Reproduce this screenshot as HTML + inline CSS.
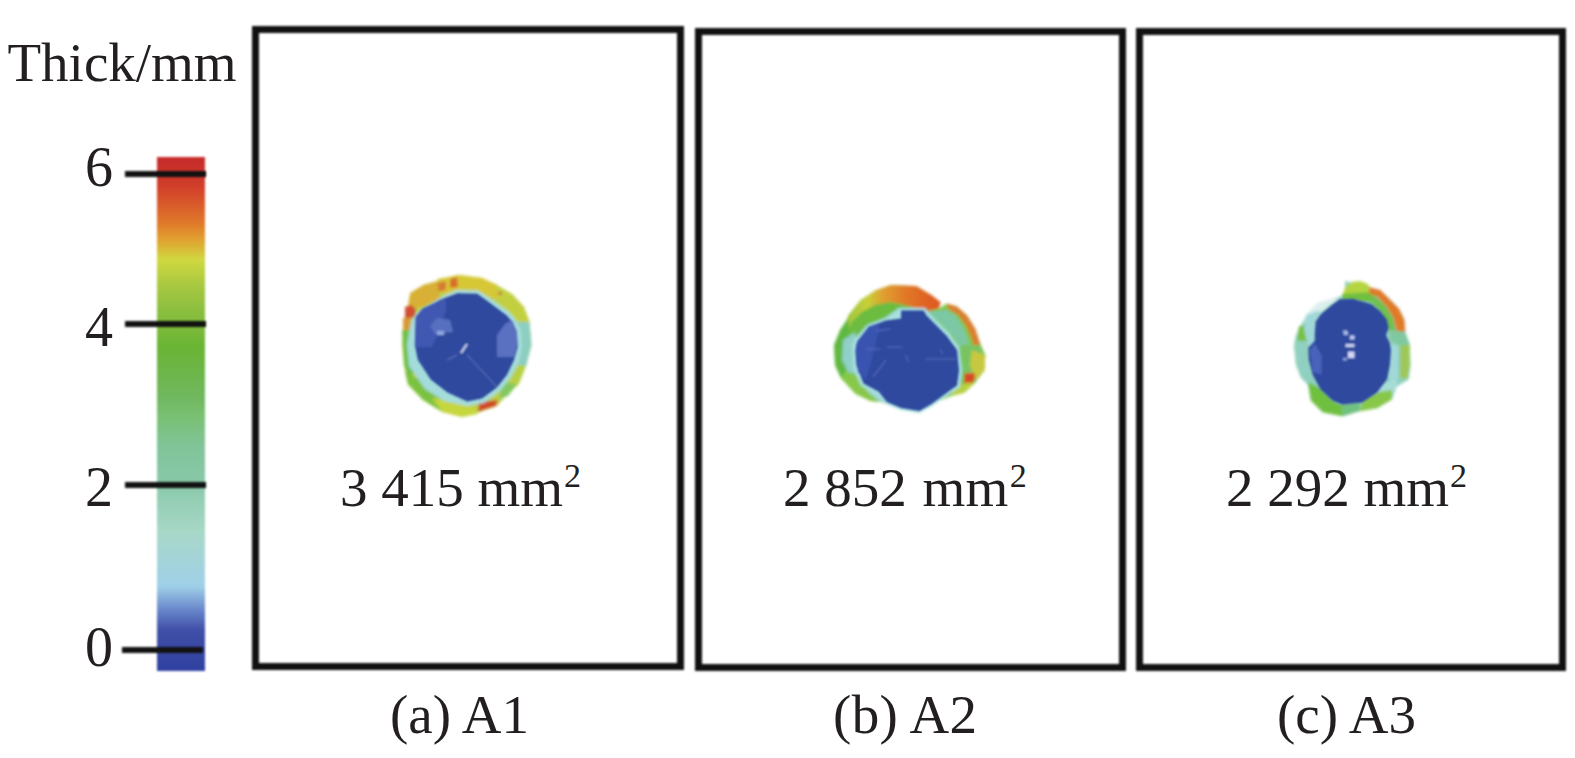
<!DOCTYPE html>
<html><head><meta charset="utf-8">
<style>
html,body{margin:0;padding:0;background:#fff;}
body{width:1575px;height:758px;position:relative;overflow:hidden;font-family:"Liberation Serif",serif;color:#231f20;}
.t{position:absolute;white-space:nowrap;line-height:1;font-size:55px;}
.frame{position:absolute;border:7px solid #111;box-sizing:border-box;filter:blur(1px);}
.blobs{position:absolute;left:0;top:0;}
.ly{position:absolute;left:0;top:0;width:100%;height:100%;}
.tick{position:absolute;height:6px;background:#111;filter:blur(1px);}
.cbar{position:absolute;filter:blur(1px);left:157px;top:157px;width:48px;height:514px;
background:linear-gradient(to bottom,#c62a2a 0%,#d2402a 6%,#e07a2a 13%,#e0a030 16%,#d0d840 20%,#a8c840 25%,#90c040 29%,#6ab434 37%,#70b860 47%,#78c070 50%,#80c498 56%,#88c8a8 63%,#a8d8c8 73%,#a0d0e8 83.5%,#6a88cc 88%,#4050a8 92%,#3040a0 100%);}
sup{font-size:0.62em;vertical-align:0;position:relative;top:-0.56em;margin-left:1px;}
</style></head>
<body>
<div class="t" id="title" style="left:7.5px;top:34.5px;">Thick/mm</div>
<div class="cbar"></div>
<div class="tick" style="left:125px;top:171px;width:81px;"></div>
<div class="tick" style="left:125px;top:321px;width:81px;"></div>
<div class="tick" style="left:125px;top:482px;width:81px;"></div>
<div class="tick" style="left:122px;top:647px;width:81px;"></div>
<div class="t" id="l6" style="left:85px;top:138.5px;font-size:56px;">6</div>
<div class="t" id="l4" style="left:85px;top:298.5px;font-size:56px;">4</div>
<div class="t" id="l2" style="left:85px;top:458.5px;font-size:56px;">2</div>
<div class="t" id="l0" style="left:85px;top:618.5px;font-size:56px;">0</div>

<svg class="blobs" width="1575" height="758" viewBox="0 0 1575 758"><defs><filter id="bl" x="-20%" y="-20%" width="140%" height="140%"><feGaussianBlur stdDeviation="1.5"/></filter><filter id="blc" x="-20%" y="-20%" width="140%" height="140%"><feGaussianBlur stdDeviation="1"/></filter></defs><g filter="url(#bl)"><polygon points="457,275 482,278 497,285 512,294 524,307 529.5,322 531.5,345 526,366 518.7,384.6 507,394.5 497,406 477,413 462,417 442.5,412 423,400 408,384.6 404,365 402,345 404,321.5 409,306 414,294 425,286 438,281" fill="#bcd048" /><polygon points="437,279 460,275 482,278 497,285 500,298 445,298" fill="#d6c834" /><polygon points="437,283 446,281 446,290 438,292" fill="#d87a30" /><polygon points="450,279 457,277 458,287 450,288" fill="#d86a2c" /><polygon points="410,293 423,285 437,281 440,300 418,308 408,306" fill="#d8b034" /><polygon points="405,307 411,305 416,309 415,317 405,319" fill="#d05030" /><polygon points="403,318 411,318 411,334 403,334" fill="#d89a34" /><polygon points="402,330 414,330 417,360 410,384 404,365" fill="#70c044" /><polygon points="405,372 420,380 445,396 452,408 442.5,412 423,400 408,384.6" fill="#7cc240" /><polygon points="432,398 470,403 478,414 462,417 442.5,412" fill="#c6d63c" /><polygon points="479,402 498,400 496,406 483,410 478,412" fill="#d04828" /><polygon points="503,382 517,384 508,396 499,399" fill="#84c860" /><polygon points="512,362 527,363 519,383 510,380" fill="#b8d044" /><polygon points="510,316 529.5,322 531.5,345 526,366 510,364" fill="#8ccec0" /><polygon points="495,285 512,294 524,307 529.5,322 510,322 500,300" fill="#c2d040" /><polygon points="498,292 502,292 502,295 498,295" fill="#c47a40" /><polygon points="445,295 457,290 478,290.5 489,297.5 509,312 515,318.5 521,330 522,347 519,362 511,377 500,391 484,403 467,406 444,401 425,389 409,366 407,345 411,322 417,313" fill="#a4dcdc" /></g><g filter="url(#blc)"><polygon points="445.5,297.7 457.4,293.3 477.2,293.8 487,300.7 506.8,315.5 511.8,321.5 516.7,331.4 517.7,347 514,360 507,374.7 497,387.5 482,398.4 467.3,401.4 447.5,392.5 430.7,379.6 417.8,359.8 414.8,345 415.8,317 422.7,308.5 432.6,304 440,300" fill="#2e489e" /><polygon points="415.8,317 422.7,308.5 432.6,304 445.5,299 446,310 440,330 432,347 415,347" fill="#4058b2" /><polygon points="430,326 437,318 450,320 453,332 435,334" fill="#5870c0" /><polygon points="437,331 444,331 444,335 437,335" fill="#90a8e0" /><polygon points="497,357 497,335 505,324 512,320 516.7,331.4 517.5,343 514,357" fill="#5a70c0" /><line x1="461" y1="353" x2="467" y2="344" stroke="#d0d8f4" stroke-width="2" opacity="1"/><line x1="467" y1="355" x2="497" y2="387" stroke="#7a8ad0" stroke-width="1" opacity="0.8"/><line x1="447" y1="360" x2="457" y2="355" stroke="#7a8ad0" stroke-width="1" opacity="0.8"/></g>
<g filter="url(#bl)"><defs><linearGradient id="arc2" gradientUnits="userSpaceOnUse" x1="845" y1="0" x2="935" y2="0"><stop offset="0" stop-color="#98c440"/><stop offset="0.25" stop-color="#c8d038"/><stop offset="0.42" stop-color="#e0a030"/><stop offset="0.66" stop-color="#e07a28"/><stop offset="1" stop-color="#e05a20"/></linearGradient></defs><polygon points="840.2,341 848.3,315.6 860.5,300.3 875.7,290.2 891,285.1 916.3,286.1 931.6,295.2 940.7,302.3 938.7,308.4 946.8,303.4 957,306.4 967.1,315.6 975.3,328.8 979.3,341 985.4,355.2 984.4,370.4 975.3,382.6 964.1,392.7 951.9,395.8 931.6,403.9 919.4,411 901.1,408 880.8,401.9 870.6,400.9 855.4,393.8 841.2,378.5 835.1,365.3 834,345" fill="#80c848" /><polygon points="848.3,315.6 860.5,300.3 875.7,290.2 891,285.1 916.3,286.1 931.6,295.2 940.7,302.3 938.7,308.4 925.5,311.5 905,305 890,302 875,305 862,312 852,322 845,332" fill="url(#arc2)" /><polygon points="946.8,303.4 957,306.4 967.1,315.6 975.3,328.8 979.3,341 981,352 975,352 972,340 966,326 958,315 948,309" fill="#d88030" /><polygon points="845,340 852,322 862,312 875,305 890,302 905,305 925.5,311.5 930,318 901,318 886,321 869,327 858,340" fill="#6cbc40" /><polygon points="926,312 947,310 956,316 963,327 968,340 970,352 961,352 956,340 947,330 937,320" fill="#7cc8a4" /><polygon points="960,345 979,345 985,355 984,370 975,382 963,385 960,370" fill="#78c460" /><polygon points="972,350 985.4,355.2 984.4,370.4 976,380 970,365" fill="#c8c840" /><polygon points="964.5,373 975,373 974,382 964,384" fill="#d84820" /><polygon points="952,388 966,383 975,383 964.1,392.7 951.9,395.8" fill="#b8d040" /><polygon points="834,345 840,330 848,318 850,345 849,365 841,378 835,365" fill="#60b840" /><polygon points="843,340 855,332 858,350 858,375 848,372 842,360" fill="#90d0c8" /><polygon points="841,378 855,375 870,385 885,395 880.8,401.9 870.6,400.9 855.4,393.8" fill="#88c848" /><polygon points="856,375 865,385 880,392 887,402 880,402 868,392" fill="#a0d8d8" /><polygon points="899,308 925,308 929,313 939,323 949,333 959,347 962,370 960,387 948,395 932,406 919.4,413 901,410 886,404 877,394 861,386 853,368 852,345 855,338 862,331 867,325 885,318" fill="#a8e0e0" /></g><g filter="url(#blc)"><polygon points="901.1,310.5 923.5,310.5 926.5,315.6 936.7,325.7 946.8,335.9 957,350 959,370.4 957,385.6 946.8,392.7 931.6,403.9 919.4,411 901.1,408 886.9,401.9 878.8,391.7 863.5,383.6 856.4,365.3 855.4,350 857.4,341 863.5,333.8 868.6,326.7 885.9,320.6 901.1,318.6" fill="#2e489e" /><polygon points="856,345 863,334 869,327 880,323 876,345 866,380 858,372" fill="#3852b0" /><line x1="876" y1="331" x2="890" y2="329" stroke="#6078c8" stroke-width="1.4" opacity="0.6"/><line x1="866" y1="349" x2="880" y2="349" stroke="#6078c8" stroke-width="1.4" opacity="0.6"/><line x1="887" y1="347" x2="902" y2="347" stroke="#6078c8" stroke-width="1.4" opacity="0.6"/><line x1="906" y1="355" x2="908" y2="362" stroke="#6078c8" stroke-width="1.4" opacity="0.6"/><line x1="925" y1="359" x2="956" y2="359" stroke="#6078c8" stroke-width="1.4" opacity="0.6"/><line x1="940" y1="350" x2="943" y2="354" stroke="#6078c8" stroke-width="1.4" opacity="0.6"/><line x1="873" y1="377" x2="886" y2="360" stroke="#6078c8" stroke-width="1.4" opacity="0.6"/></g>
<g filter="url(#bl)"><polygon points="1345,281 1369,287 1380,290 1390,299 1399,308.5 1404.3,319.6 1405.3,331.6 1408,340 1409.7,345 1410.7,364.8 1408.7,379.6 1396.8,386.6 1391.9,399.4 1377,408.3 1359.2,411.3 1342.4,416.2 1322.6,412.3 1310.8,400.4 1307.8,384.6 1300.9,377.6 1296,364.8 1294,345 1296,335 1301,325 1308,313 1318,303 1332,299 1345,295" fill="#90d0c0" /><polygon points="1343,293 1346,286 1352,282 1360,281 1368,284 1371,290 1370,296 1345,298" fill="#b4d440" /><polygon points="1342,294 1372,292 1380,303 1342,300" fill="#70c040" /><polygon points="1369.3,287.2 1380.3,290 1389.6,299.2 1398.8,308.5 1404.3,319.6 1405.3,331.6 1397,332.5 1393.3,317.7 1385.9,305.7 1376.6,296.5 1369.3,293.7" fill="#e07a28" /><polygon points="1372,294 1385,305 1393,318 1396,332 1388,330 1380,312 1370,302" fill="#70c050" /><polygon points="1390,330 1405,332 1410,345 1398,345 1390,340" fill="#80c8a0" /><polygon points="1400,345 1410,345 1410,364.8 1407.5,379 1400,378" fill="#9cc858" /><polygon points="1390,345 1398,345 1398,378 1392,385 1388,375" fill="#a0d8d8" /><polygon points="1375,385 1397,380 1396.8,386.6 1391.9,395 1378,395" fill="#a8dcd8" /><polygon points="1363,400 1378,392 1392,390 1391.9,399.4 1377,408.3 1359.2,411.3" fill="#88c848" /><polygon points="1341,404 1360,402 1359.2,411.3 1342.4,416.2" fill="#70c080" /><polygon points="1308,382 1320,388 1335,402 1342,405 1342.4,416.2 1322.6,412.3 1310.8,400.4" fill="#70c040" /><polygon points="1294,345 1309,340 1312,375 1307.8,384.6 1300.9,377.6 1296,364.8" fill="#90d0c0" /><polygon points="1299,326 1308,326 1308,341 1297,341" fill="#78c040" /><polygon points="1308,313 1318,303 1332,299 1340,299 1330,305 1318,315 1311,322 1304,322" fill="#dcf0ee" /><polygon points="1306,315 1320,310 1318,345 1308,345 1304,330" fill="#a0d8d8" /></g><g filter="url(#blc)"><polygon points="1339.7,299.2 1352.6,298.8 1371.1,303.9 1380.3,311.2 1386.8,319.6 1388.6,327.9 1385.9,335.2 1389.6,342.6 1390.9,350 1389.9,364.8 1386.9,379.6 1377,392.5 1362.2,402.4 1342.4,404.4 1332.5,400.4 1320.6,389.5 1312.7,374.7 1308.8,359.8 1308.3,348 1314.8,340.8 1314.8,333.4 1315.7,321.4 1321.2,314 1332.3,304.8" fill="#2e489e" /><polygon points="1309.8,350 1315,344 1321.6,355 1321.6,374.7 1313,372" fill="#4a62bc" /><polygon points="1343,330.5 1347.5,330.5 1348,335 1344,335" fill="#a8b8ec" /><polygon points="1350,335.5 1354.5,335.5 1354.5,339.5 1350,339.5" fill="#c0ccf2" /><polygon points="1345.5,344 1354.5,344 1354.5,347 1345.5,347" fill="#c8d2f4" /><polygon points="1348,351.5 1354.5,351.5 1354.5,358 1348,358" fill="#d0d8f6" /><polygon points="1343,358 1347,358 1347,360.5 1343,360.5" fill="#90a0e0" /></g></svg>
<div class="frame" style="left:252px;top:26px;width:432px;height:644px;"></div>
<div class="frame" style="left:695px;top:28px;width:431px;height:643px;"></div>
<div class="frame" style="left:1136px;top:28px;width:430px;height:643px;"></div>

<div class="t" id="a1" style="left:340px;top:460px;">3 415 mm<sup>2</sup></div>
<div class="t" id="a2" style="left:783px;top:460px;">2 852 <span style="margin-left:2px;letter-spacing:0.3px">mm</span><sup>2</sup></div>
<div class="t" id="a3" style="left:1226px;top:460px;">2 292 mm<sup>2</sup></div>

<div class="t" id="c1" style="left:390px;top:687px;">(a) A1</div>
<div class="t" id="c2" style="left:833px;top:687px;letter-spacing:0.4px;">(b) A2</div>
<div class="t" id="c3" style="left:1277px;top:687px;">(c) A3</div>
</body></html>
